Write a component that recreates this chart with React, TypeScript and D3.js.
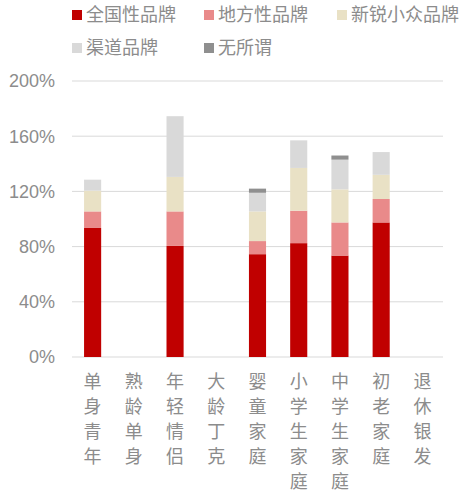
import React from "react";
import * as d3 from "d3";

const categories = ["单身青年", "熟龄单身", "年轻情侣", "大龄丁克", "婴童家庭", "小学生家庭", "中学生家庭", "初老家庭", "退休银发"];
const national = [0.935, 0, 0.805, 0, 0.745, 0.825, 0.735, 0.975, 0];
const local = [0.12, 0, 0.25, 0, 0.095, 0.235, 0.24, 0.17, 0];
const niche = [0.15, 0, 0.25, 0, 0.215, 0.31, 0.24, 0.175, 0];
const channel = [0.08, 0, 0.44, 0, 0.135, 0.2, 0.215, 0.165, 0];
const whatever = [0, 0, 0, 0, 0.03, 0, 0.03, 0, 0];
const seriesNames = ["全国性品牌", "地方性品牌", "新锐小众品牌", "渠道品牌", "无所谓"];
const yTicks = [0, 0.4, 0.8, 1.2, 1.6, 2.0];

const colors = ["#C00000", "#E98A8A", "#E9E1C5", "#D9D9D9", "#8F8F8F"];
const W = 470, H = 494;
const textColor = "#8C8C8C";
const font = "'Liberation Sans', 'Noto Sans CJK SC', sans-serif";

export default function App() {
  const seriesValues = [national, local, niche, channel, whatever];
  const rows = categories.map((c, i) => {
    const r: any = { cat: c };
    seriesNames.forEach((s, k) => (r[s] = seriesValues[k][i]));
    return r;
  });
  const stack = d3.stack<any>().keys(seriesNames)(rows);
  const x = d3.scaleBand().domain(categories).range([72, 443]).paddingInner(0.585).paddingOuter(0.2925);
  const y = d3.scaleLinear().domain([0, 2]).range([357, 81]);
  const legendPos = [
    [72, 15], [204, 15], [337, 15], [72, 48], [204, 48],
  ];
  return (
    <svg width={W} height={H} style={{ position: "absolute", left: 0, top: 0, background: "#fff" }} fontFamily={font}>
      {yTicks.map((t) => (
        <g key={t}>
          <line x1={72} x2={443} y1={y(t)} y2={y(t)} stroke="#D9D9D9" strokeWidth={1} />
          <text x={55} y={y(t)} dy="0.35em" textAnchor="end" fontSize={18} fill={textColor}>
            {d3.format(".0%")(t)}
          </text>
        </g>
      ))}
      {stack.map((s, k) => (
        <g key={s.key} fill={colors[k]}>
          {s.map((d, i) =>
            d[1] - d[0] > 0 ? (
              <rect key={i} x={x(categories[i])} width={x.bandwidth()} y={y(d[1])} height={y(d[0]) - y(d[1])} />
            ) : null
          )}
        </g>
      ))}
      {categories.map((c) => (
        <g key={c}>
          {Array.from(c).map((ch, j) => (
            <text key={j} x={(x(c) as number) + x.bandwidth() / 2} y={382 + j * 25} dy="0.35em" textAnchor="middle" fontSize={18} fill={textColor}>
              {ch}
            </text>
          ))}
        </g>
      ))}
      {seriesNames.map((s, k) => (
        <g key={s} transform={`translate(${legendPos[k][0]},${legendPos[k][1]})`}>
          <rect x={0} y={-5} width={10} height={10} fill={colors[k]} />
          <text x={14} y={0} dy="0.35em" fontSize={18} fill={textColor}>{s}</text>
        </g>
      ))}
    </svg>
  );
}
